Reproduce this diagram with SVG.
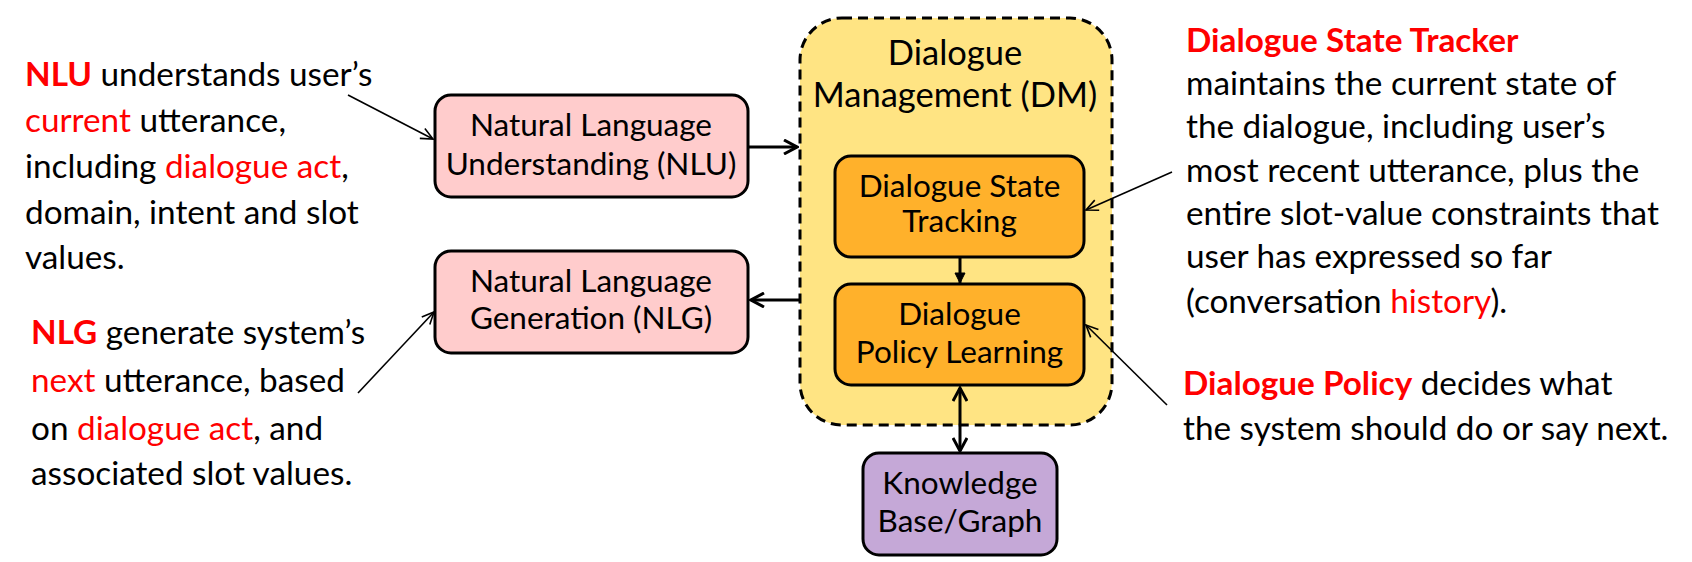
<svg xmlns="http://www.w3.org/2000/svg" width="1692" height="562" viewBox="0 0 1692 562">
  <style>
    .box { stroke: #000; stroke-width: 3; }
    .pink { fill: #FFCCCC; }
    .orange { fill: #FFB12B; }
    .purple { fill: #C5A8D7; }
    .dm { fill: #FFE483; stroke: #000; stroke-width: 3; stroke-dasharray: 10 6; }
    .bt { font-family: Lato, "Open Sans", sans-serif; font-size: 31.5px; fill: #000; text-anchor: middle; }
    .dt { font-family: Lato, "Open Sans", sans-serif; font-size: 34.5px; fill: #000; text-anchor: middle; }
    .desc { font-family: Lato, "Open Sans", sans-serif; font-size: 33.3px; fill: #000; }
    .red { fill: #FF0000; }
    .b { font-weight: bold; }
    .thick { stroke: #000; stroke-width: 3; fill: none; }
    .thin { stroke: #000; stroke-width: 1.6; fill: none; }
  </style>
  <defs>
    <marker id="openBig" viewBox="0 0 16 16" refX="14" refY="8" markerWidth="16" markerHeight="16" markerUnits="userSpaceOnUse" orient="auto-start-reverse">
      <path d="M1,1 L14,8 L1,15" fill="none" stroke="#000" stroke-width="3" stroke-linejoin="miter"/>
    </marker>
    <marker id="openSmall" viewBox="0 0 14 14" refX="13" refY="7" markerWidth="14" markerHeight="14" markerUnits="userSpaceOnUse" orient="auto">
      <path d="M1,1.5 L13,7 L1,12.5" fill="none" stroke="#000" stroke-width="1.6"/>
    </marker>
    <marker id="solid" viewBox="0 0 12 12" refX="11" refY="6" markerWidth="12" markerHeight="12" markerUnits="userSpaceOnUse" orient="auto">
      <path d="M1,1 L11,6 L1,11 Z" fill="#000" stroke="#000" stroke-width="1"/>
    </marker>
  </defs>

  <g id="dm">
    <rect class="dm" x="800" y="18" width="312" height="407" rx="42" ry="42"/>
    <text class="dt" x="955" y="65">Dialogue</text>
    <text class="dt" x="955" y="107">Management (DM)</text>
  </g>

  <g id="nlu">
    <rect class="box pink" x="435" y="95" width="313" height="102" rx="16" ry="16"/>
    <text class="bt" x="591" y="136">Natural Language</text>
    <text class="bt" x="591" y="175">Understanding (NLU)</text>
  </g>

  <g id="nlg">
    <rect class="box pink" x="435" y="251" width="313" height="102" rx="16" ry="16"/>
    <text class="bt" x="591" y="292">Natural Language</text>
    <text class="bt" x="591" y="329">Generation (NLG)</text>
  </g>

  <g id="dst">
    <rect class="box orange" x="835" y="156" width="249" height="101" rx="16" ry="16"/>
    <text class="bt" x="959.5" y="197">Dialogue State</text>
    <text class="bt" x="959.5" y="232">Tracking</text>
  </g>

  <g id="dpl">
    <rect class="box orange" x="835" y="284" width="249" height="101" rx="16" ry="16"/>
    <text class="bt" x="959.5" y="325">Dialogue</text>
    <text class="bt" x="959.5" y="363">Policy Learning</text>
  </g>

  <g id="kb">
    <rect class="box purple" x="863" y="453" width="194" height="102" rx="16" ry="16"/>
    <text class="bt" x="960" y="494">Knowledge</text>
    <text class="bt" x="960" y="532">Base/Graph</text>
  </g>

  <g id="nlu-note">
    <text class="desc" x="25" y="86"><tspan class="red b">NLU</tspan> understands user’s</text>
    <text class="desc" x="25" y="132"><tspan class="red">current</tspan> utterance,</text>
    <text class="desc" x="25" y="178">including <tspan class="red">dialogue act</tspan>,</text>
    <text class="desc" x="25" y="224">domain, intent and slot</text>
    <text class="desc" x="25" y="269">values.</text>
  </g>

  <g id="nlg-note">
    <text class="desc" x="31" y="344"><tspan class="red b">NLG</tspan> generate system’s</text>
    <text class="desc" x="31" y="392"><tspan class="red">next</tspan> utterance, based</text>
    <text class="desc" x="31" y="440">on <tspan class="red">dialogue act</tspan>, and</text>
    <text class="desc" x="31" y="485">associated slot values.</text>
  </g>

  <g id="dst-note">
    <text class="desc red b" x="1186" y="52">Dialogue State Tracker</text>
    <text class="desc" x="1186" y="95">maintains the current state of</text>
    <text class="desc" x="1186" y="138">the dialogue, including user’s</text>
    <text class="desc" x="1186" y="182">most recent utterance, plus the</text>
    <text class="desc" x="1186" y="225">entire slot-value constraints that</text>
    <text class="desc" x="1186" y="268">user has expressed so far</text>
    <text class="desc" x="1186" y="313">(conversation <tspan class="red">history</tspan>).</text>
  </g>

  <g id="dp-note">
    <text class="desc" x="1183" y="395"><tspan class="red b">Dialogue Policy</tspan> decides what</text>
    <text class="desc" x="1183" y="440">the system should do or say next.</text>
  </g>

  <g id="connectors">
    <line class="thick" x1="748" y1="147" x2="797" y2="147" marker-end="url(#openBig)"/>
    <line class="thick" x1="800" y1="300" x2="751" y2="300" marker-end="url(#openBig)"/>
    <line class="thick" x1="960" y1="257" x2="960" y2="283" stroke-width="2.5" marker-end="url(#solid)"/>
    <line class="thick" x1="960" y1="388" x2="960" y2="451" marker-start="url(#openBig)" marker-end="url(#openBig)"/>
    <line class="thin" x1="348" y1="95" x2="433" y2="139" marker-end="url(#openSmall)"/>
    <line class="thin" x1="358" y1="393" x2="434" y2="312" marker-end="url(#openSmall)"/>
    <line class="thin" x1="1172" y1="172" x2="1086" y2="210" marker-end="url(#openSmall)"/>
    <line class="thin" x1="1167" y1="405" x2="1086" y2="325" marker-end="url(#openSmall)"/>
  </g>
</svg>
